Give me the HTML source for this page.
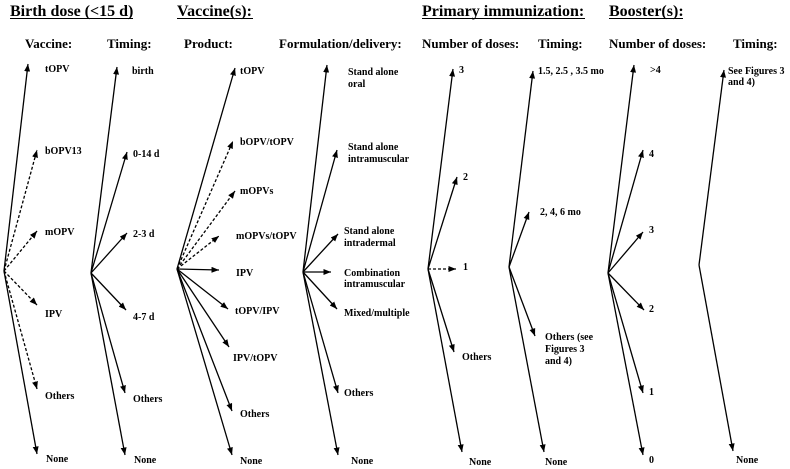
<!DOCTYPE html>
<html><head><meta charset="utf-8"><style>
html,body{margin:0;padding:0;background:#fff;}
svg{display:block;}
text{font-family:"Liberation Serif",serif;font-weight:bold;fill:#000;}
.t{font-size:16px;}
.h{font-size:13px;}
.l{font-size:10px;}
line{stroke:#000;stroke-width:1.3;}
.d{stroke-dasharray:3,2;}
</style></head><body>
<svg width="790" height="469" viewBox="0 0 790 469" xmlns="http://www.w3.org/2000/svg">
<defs>
<marker id="a" viewBox="0 0 7.5 6" refX="7.5" refY="3" markerWidth="7.5" markerHeight="6" markerUnits="userSpaceOnUse" orient="auto">
<path d="M0,0 L7.5,3 L0,6 z" fill="#000"/>
</marker>
</defs>
<rect width="790" height="469" fill="#fff"/>

<!-- Titles -->
<text class="t" x="10" y="16">Birth dose (&lt;15 d)</text>
<line x1="10" y1="18.5" x2="133" y2="18.5" style="stroke-width:1"/>
<text class="t" x="177" y="16">Vaccine(s):</text>
<line x1="177" y1="18.5" x2="253" y2="18.5" style="stroke-width:1"/>
<text class="t" x="422" y="16">Primary immunization:</text>
<line x1="422" y1="18.5" x2="585" y2="18.5" style="stroke-width:1"/>
<text class="t" x="609" y="16">Booster(s):</text>
<line x1="609" y1="18.5" x2="683" y2="18.5" style="stroke-width:1"/>

<!-- Headers -->
<text class="h" x="25" y="48">Vaccine:</text>
<text class="h" x="107" y="48">Timing:</text>
<text class="h" x="184" y="48">Product:</text>
<text class="h" x="279" y="48">Formulation/delivery:</text>
<text class="h" x="422" y="48">Number of doses:</text>
<text class="h" x="538" y="48">Timing:</text>
<text class="h" x="609" y="48">Number of doses:</text>
<text class="h" x="733" y="48">Timing:</text>

<!-- Birth dose: Vaccine -->
<g marker-end="url(#a)">
<line x1="4" y1="271" x2="28" y2="64"/>
<line class="d" x1="4" y1="271" x2="37" y2="150"/>
<line class="d" x1="4" y1="271" x2="37" y2="231"/>
<line class="d" x1="4" y1="271" x2="37" y2="305"/>
<line class="d" x1="4" y1="271" x2="37" y2="389"/>
<line x1="4" y1="271" x2="37" y2="454"/>
</g>
<text class="l" x="45" y="72">tOPV</text>
<text class="l" x="45" y="154">bOPV13</text>
<text class="l" x="45" y="235">mOPV</text>
<text class="l" x="45" y="317">IPV</text>
<text class="l" x="45" y="399">Others</text>
<text class="l" x="46" y="462">None</text>

<!-- Birth dose: Timing -->
<g marker-end="url(#a)">
<line x1="91" y1="273" x2="117" y2="67"/>
<line x1="91" y1="273" x2="127" y2="152"/>
<line x1="91" y1="273" x2="127" y2="233"/>
<line x1="91" y1="273" x2="126" y2="310"/>
<line x1="91" y1="273" x2="125" y2="393"/>
<line x1="91" y1="273" x2="125" y2="455"/>
</g>
<text class="l" x="132" y="74">birth</text>
<text class="l" x="133" y="157">0-14 d</text>
<text class="l" x="133" y="237">2-3 d</text>
<text class="l" x="133" y="320">4-7 d</text>
<text class="l" x="133" y="402">Others</text>
<text class="l" x="134" y="463">None</text>

<!-- Vaccine(s): Product -->
<g marker-end="url(#a)">
<line x1="177" y1="269" x2="235" y2="68"/>
<line class="d" x1="177" y1="269" x2="233" y2="141"/>
<line class="d" x1="177" y1="269" x2="235" y2="191"/>
<line class="d" x1="177" y1="269" x2="219" y2="236"/>
<line x1="177" y1="269" x2="219" y2="270"/>
<line x1="177" y1="269" x2="228" y2="309"/>
<line x1="177" y1="269" x2="229" y2="347"/>
<line x1="177" y1="269" x2="232" y2="411"/>
<line x1="177" y1="269" x2="232" y2="455"/>
</g>
<text class="l" x="240" y="74">tOPV</text>
<text class="l" x="240" y="145">bOPV/tOPV</text>
<text class="l" x="240" y="194">mOPVs</text>
<text class="l" x="236" y="239">mOPVs/tOPV</text>
<text class="l" x="236" y="276">IPV</text>
<text class="l" x="235" y="314">tOPV/IPV</text>
<text class="l" x="233" y="361">IPV/tOPV</text>
<text class="l" x="240" y="417">Others</text>
<text class="l" x="240" y="464">None</text>

<!-- Vaccine(s): Formulation -->
<g marker-end="url(#a)">
<line x1="303" y1="272" x2="327" y2="65"/>
<line x1="303" y1="272" x2="337" y2="150"/>
<line x1="303" y1="272" x2="338" y2="234"/>
<line x1="303" y1="272" x2="331" y2="272"/>
<line x1="303" y1="272" x2="337" y2="309"/>
<line x1="303" y1="272" x2="338" y2="393"/>
<line x1="303" y1="272" x2="338" y2="455"/>
</g>
<text class="l" x="348" y="75">Stand alone</text>
<text class="l" x="348" y="87">oral</text>
<text class="l" x="348" y="150">Stand alone</text>
<text class="l" x="348" y="162">intramuscular</text>
<text class="l" x="344" y="234">Stand alone</text>
<text class="l" x="344" y="246">intradermal</text>
<text class="l" x="344" y="276">Combination</text>
<text class="l" x="344" y="287">intramuscular</text>
<text class="l" x="344" y="316">Mixed/multiple</text>
<text class="l" x="344" y="396">Others</text>
<text class="l" x="351" y="464">None</text>

<!-- Primary: Number of doses -->
<g marker-end="url(#a)">
<line x1="428" y1="269" x2="453" y2="69"/>
<line x1="428" y1="269" x2="457" y2="177"/>
<line class="d" x1="428" y1="269" x2="456" y2="269"/>
<line x1="428" y1="269" x2="454" y2="352"/>
<line x1="428" y1="269" x2="462" y2="452"/>
</g>
<text class="l" x="459" y="73">3</text>
<text class="l" x="463" y="180">2</text>
<text class="l" x="463" y="270">1</text>
<text class="l" x="462" y="360">Others</text>
<text class="l" x="469" y="465">None</text>

<!-- Primary: Timing -->
<g marker-end="url(#a)">
<line x1="509" y1="267" x2="533" y2="71"/>
<line x1="509" y1="267" x2="529" y2="212"/>
<line x1="509" y1="267" x2="535" y2="336"/>
<line x1="509" y1="267" x2="544" y2="452"/>
</g>
<text class="l" x="538" y="74">1.5, 2.5 , 3.5 mo</text>
<text class="l" x="540" y="215">2, 4, 6 mo</text>
<text class="l" x="545" y="340">Others (see</text>
<text class="l" x="545" y="352">Figures 3</text>
<text class="l" x="545" y="364">and 4)</text>
<text class="l" x="545" y="465">None</text>

<!-- Booster: Number of doses -->
<g marker-end="url(#a)">
<line x1="608" y1="273" x2="634" y2="65"/>
<line x1="608" y1="273" x2="643" y2="150"/>
<line x1="608" y1="273" x2="643" y2="232"/>
<line x1="608" y1="273" x2="644" y2="310"/>
<line x1="608" y1="273" x2="643" y2="393"/>
<line x1="608" y1="273" x2="643" y2="455"/>
</g>
<text class="l" x="650" y="73">&gt;4</text>
<text class="l" x="649" y="157">4</text>
<text class="l" x="649" y="233">3</text>
<text class="l" x="649" y="312">2</text>
<text class="l" x="649" y="395">1</text>
<text class="l" x="649" y="463">0</text>

<!-- Booster: Timing -->
<g marker-end="url(#a)">
<line x1="699" y1="265" x2="724" y2="70"/>
<line x1="699" y1="265" x2="733" y2="451"/>
</g>
<text class="l" x="728" y="74">See Figures 3</text>
<text class="l" x="728" y="85">and 4)</text>
<text class="l" x="736" y="463">None</text>
</svg>
</body></html>
